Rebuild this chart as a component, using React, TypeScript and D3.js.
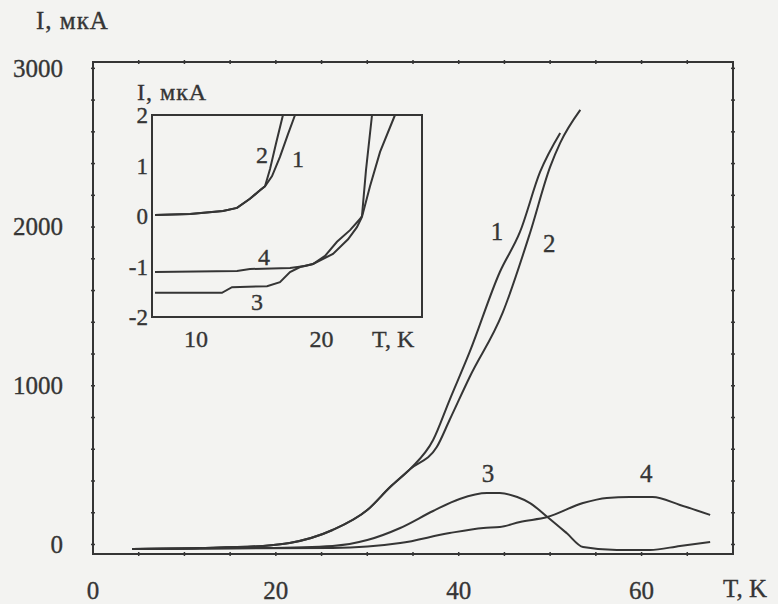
import React from 'react';
import * as d3 from 'd3';

// main chart: I (мкА) vs T (K)
const shared12T = [4.3, 11.7, 18.6, 21.5, 26.2, 30.0, 32.5, 34.7];
const shared12I = [-28, -22, -9, 9, 91, 217, 362, 476];
const curve1T = [...shared12T, 37.2, 39.0, 41.2, 44.5, 46.7, 48.9, 51.1];
const curve1I = [...shared12I, 658, 910, 1213, 1717, 1969, 2347, 2593];
const curve2T = [...shared12T, 37.6, 39.0, 41.2, 44.8, 47.8, 50.0, 51.1, 53.3];
const curve2I = [...shared12I, 614, 784, 1055, 1459, 1963, 2379, 2530, 2738];
const curve3T = [4.3, 18.6, 26.2, 30.0, 33.6, 37.2, 40.1, 43.1, 44.5, 46.4, 47.8, 49.7, 51.8, 53.6, 57.3, 60.9, 64.2, 67.5];
const curve3I = [-28, -22, -9, 28, 104, 211, 287, 324, 324, 299, 261, 173, 72, -16, -35, -35, -9, 16];
const curve4T = [4.3, 26.2, 33.6, 39.0, 42.7, 44.5, 46.7, 49.7, 53.6, 56.2, 58.7, 61.2, 64.2, 67.5];
const curve4I = [-28, -22, 9, 72, 104, 110, 142, 173, 261, 293, 299, 299, 249, 186];

const xTicks = [0, 20, 40, 60];
const yTicks = [0, 1000, 2000, 3000];
const curveNames = ['1', '2', '3', '4'];
const labelT = [44.2, 49.9, 43.2, 60.5];
const labelI = [1919, 1843, 394, 394];

// inset: low temperature part
const inShared12T = [6.74, 9.53, 12.15, 13.27, 14.3, 15.1, 15.5];
const inShared12I = [0.02, 0.04, 0.1, 0.16, 0.34, 0.51, 0.59];
const inset1T = [...inShared12T, 16.06, 16.69, 17.33, 17.89];
const inset1I = [...inShared12I, 0.79, 1.17, 1.62, 2.0];
const inset2T = [...inShared12T, 15.9, 16.37, 16.93];
const inset2I = [...inShared12I, 0.93, 1.43, 2.0];
const inset3T = [6.74, 12.07, 12.87, 15.66, 16.69, 17.49, 18.29, 19.32, 20.91, 22.11, 22.82, 23.22, 23.86, 24.66, 25.85];
const inset3I = [-1.52, -1.52, -1.41, -1.39, -1.31, -1.11, -1.01, -0.95, -0.75, -0.46, -0.22, -0.02, 0.59, 1.27, 2.0];
const inset4T = [6.74, 13.27, 14.3, 17.49, 18.68, 19.32, 20.28, 21.23, 22.27, 23.06, 23.22, 23.54, 24.02];
const inset4I = [-1.11, -1.09, -1.05, -1.03, -0.99, -0.95, -0.79, -0.51, -0.28, -0.06, 0, 0.91, 2.0];

const insetXTicks = [10, 20];
const insetYTicks = [2, 1, 0, -1, -2];
const insetLabelT = [18.13, 15.26, 14.86, 15.42];
const insetLabelI = [0.97, 1.05, -1.86, -0.97];

const ink = '#353535';
const paper = '#f3f3f1';
const font = '"Liberation Serif", "Times New Roman", serif';

const zip = (ts: number[], is: number[]) => ts.map((t, i) => [t, is[i]] as [number, number]);

export default function App() {
  const W = 778;
  const H = 604;

  const x = d3.scaleLinear().domain([0, 70]).range([93, 733]);
  const y = d3.scaleLinear().domain([-60, 3040]).range([554, 62]);

  const ix = d3.scaleLinear().domain([6.5, 28]).range([152, 422]);
  const iy = d3.scaleLinear().domain([-2, 2]).range([317, 115]);

  const line = d3.line<[number, number]>()
    .x(d => x(d[0]))
    .y(d => y(d[1]))
    .curve(d3.curveMonotoneX);

  const insetLine = d3.line<[number, number]>()
    .x(d => ix(d[0]))
    .y(d => iy(d[1]));

  const mainSeries = [zip(curve1T, curve1I), zip(curve2T, curve2I), zip(curve3T, curve3I), zip(curve4T, curve4I)];
  const insetSeries = [zip(inset1T, inset1I), zip(inset2T, inset2I), zip(inset3T, inset3I), zip(inset4T, inset4I)];

  const minorX = d3.range(5, 70, 5);
  const minorY = d3.range(0, 3040, 200);

  const [x0, x1] = x.range();
  const [y0, y1] = y.range();

  return (
    <svg width={W} height={H} style={{ position: 'absolute', left: 0, top: 0, background: paper }}
      fontFamily={font}>
      <rect x={0} y={0} width={W} height={H} fill={paper} />

      {/* main frame */}
      <rect x={x0} y={y1} width={x1 - x0} height={y0 - y1} fill="none" stroke={ink} strokeWidth={2} />
      {minorX.map(t => (
        <g key={'tx' + t} stroke={ink} strokeWidth={1.5}>
          <line x1={x(t)} x2={x(t)} y1={y0 - 2} y2={y0 + 2} />
          <line x1={x(t)} x2={x(t)} y1={y1 - 2} y2={y1 + 2} />
        </g>
      ))}
      {minorY.map(v => (
        <g key={'ty' + v} stroke={ink} strokeWidth={1.5}>
          <line x1={x0 - 2} x2={x0 + 2} y1={y(v)} y2={y(v)} />
          <line x1={x1 - 2} x2={x1 + 2} y1={y(v)} y2={y(v)} />
        </g>
      ))}

      <g fill={ink} stroke={ink} strokeWidth={0.35}>
        {xTicks.map(t => (
          <text key={'xl' + t} x={x(t)} y={599} fontSize={25} textAnchor="middle">{t}</text>
        ))}
        {yTicks.map(v => (
          <text key={'yl' + v} x={63} y={y(v)} dy="0.33em" fontSize={25} textAnchor="end">{v}</text>
        ))}
        <text x={36} y={29} fontSize={25} letterSpacing={1}>I, мкА</text>
        <text x={723} y={597} fontSize={25}>T, K</text>
        {curveNames.map((n, i) => (
          <text key={'ml' + n} x={x(labelT[i])} y={y(labelI[i])} fontSize={25} textAnchor="middle">{n}</text>
        ))}
      </g>

      {mainSeries.map((s, i) => (
        <path key={'m' + i} d={line(s) || ''} fill="none" stroke={ink} strokeWidth={2} />
      ))}

      {/* inset */}
      <rect x={ix.range()[0]} y={iy.range()[1]} width={ix.range()[1] - ix.range()[0]}
        height={iy.range()[0] - iy.range()[1]} fill={paper} stroke={ink} strokeWidth={2} />
      {insetSeries.map((s, i) => (
        <path key={'i' + i} d={insetLine(s) || ''} fill="none" stroke={ink} strokeWidth={2} />
      ))}
      <g fill={ink} stroke={ink} strokeWidth={0.35}>
        {curveNames.map((n, i) => (
          <text key={'il' + n} x={ix(insetLabelT[i])} y={iy(insetLabelI[i])} fontSize={24} textAnchor="middle">{n}</text>
        ))}
        {insetYTicks.map(v => (
          <text key={'iyl' + v} x={148} y={iy(v)} dy="0.35em" fontSize={23} textAnchor="end">{v}</text>
        ))}
        {insetXTicks.map(t => (
          <text key={'ixl' + t} x={ix(t)} y={347} fontSize={24} textAnchor="middle">{t}</text>
        ))}
        <text x={372} y={347} fontSize={24}>T, K</text>
        <text x={137} y={100} fontSize={24} letterSpacing={1}>I, мкА</text>
      </g>
    </svg>
  );
}
